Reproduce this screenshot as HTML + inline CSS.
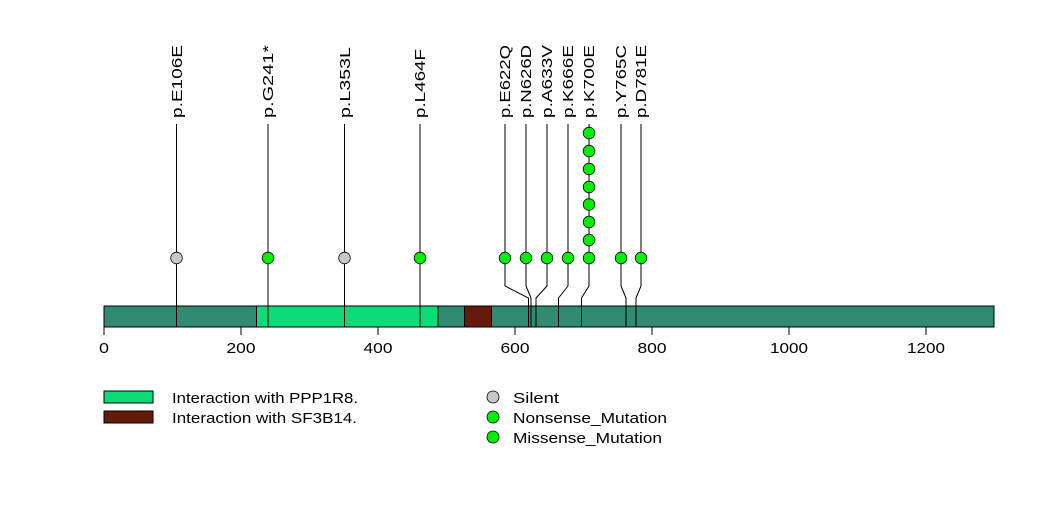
<!DOCTYPE html>
<html><head><meta charset="utf-8"><style>
body{margin:0;background:#fff;}
svg text{font-family:"Liberation Sans",sans-serif;}
</style></head><body>
<svg width="1047" height="524" viewBox="0 0 1047 524" xmlns="http://www.w3.org/2000/svg">
<rect width="1047" height="524" fill="#fff"/>
<g fill="none" stroke="#000" stroke-width="1">
<line x1="176.5" y1="124" x2="176.5" y2="327"/>
<line x1="268" y1="124" x2="268" y2="327"/>
<line x1="344.5" y1="124" x2="344.5" y2="327"/>
<line x1="420" y1="124" x2="420" y2="327"/>
<polyline points="505,124 505,286 528.5,298 528.5,327"/>
<polyline points="526,124 526,286 531,298 531,327"/>
<polyline points="547,124 547,286 536,298 536,327"/>
<polyline points="568,124 568,286 558.5,298 558.5,327"/>
<polyline points="589,124 589,286 581.5,298 581.5,327"/>
<polyline points="621,124 621,286 626,298 626,327"/>
<polyline points="641,124 641,286 636,298 636,327"/>
</g>
<rect x="104" y="306" width="890" height="21" fill="#318a72" stroke="#000"/>
<rect x="256.5" y="306" width="181.5" height="21" fill="#0cdb78" stroke="#000"/>
<rect x="464.5" y="306" width="27" height="21" fill="#661a0c" stroke="#000"/>
<g stroke="#000">
<line x1="176.5" y1="306" x2="176.5" y2="327"/><line x1="268" y1="306" x2="268" y2="327"/>
<line x1="344.5" y1="306" x2="344.5" y2="327"/><line x1="420" y1="306" x2="420" y2="327"/>
<line x1="528.5" y1="306" x2="528.5" y2="327"/><line x1="531" y1="306" x2="531" y2="327"/>
<line x1="536" y1="306" x2="536" y2="327"/><line x1="558.5" y1="306" x2="558.5" y2="327"/>
<line x1="581.5" y1="306" x2="581.5" y2="327"/><line x1="626" y1="306" x2="626" y2="327"/>
<line x1="636" y1="306" x2="636" y2="327"/>
</g>
<g stroke="#000">
<line x1="104" y1="327" x2="789" y2="327"/>
<line x1="104" y1="327" x2="104" y2="335"/><line x1="241" y1="327" x2="241" y2="335"/>
<line x1="378" y1="327" x2="378" y2="335"/><line x1="515" y1="327" x2="515" y2="335"/>
<line x1="652" y1="327" x2="652" y2="335"/><line x1="789" y1="327" x2="789" y2="335"/>
<line x1="926" y1="327" x2="926" y2="335"/>
</g>
<g font-size="15" text-anchor="middle" fill="#000" lengthAdjust="spacingAndGlyphs">
<text x="104" y="353" textLength="10" lengthAdjust="spacingAndGlyphs">0</text>
<text x="241" y="353" textLength="29" lengthAdjust="spacingAndGlyphs">200</text>
<text x="378" y="353" textLength="29" lengthAdjust="spacingAndGlyphs">400</text>
<text x="515" y="353" textLength="29" lengthAdjust="spacingAndGlyphs">600</text>
<text x="652" y="353" textLength="29" lengthAdjust="spacingAndGlyphs">800</text>
<text x="789" y="353" textLength="38" lengthAdjust="spacingAndGlyphs">1000</text>
<text x="926" y="353" textLength="38" lengthAdjust="spacingAndGlyphs">1200</text>
</g>
<g stroke="#000" stroke-width="0.8">
<circle cx="176.5" cy="258" r="5.8" fill="#c8c8c8"/>
<circle cx="268" cy="258" r="5.8" fill="#00ee00"/>
<circle cx="344.5" cy="258" r="5.8" fill="#c8c8c8"/>
<circle cx="420" cy="258" r="5.8" fill="#00ee00"/>
<circle cx="505" cy="258" r="5.8" fill="#00ee00"/>
<circle cx="526" cy="258" r="5.8" fill="#00ee00"/>
<circle cx="547" cy="258" r="5.8" fill="#00ee00"/>
<circle cx="568" cy="258" r="5.8" fill="#00ee00"/>
<circle cx="621" cy="258" r="5.8" fill="#00ee00"/>
<circle cx="641" cy="258" r="5.8" fill="#00ee00"/>
<circle cx="589" cy="258" r="5.8" fill="#00ee00"/>
<circle cx="589" cy="240" r="5.8" fill="#00ee00"/>
<circle cx="589" cy="222" r="5.8" fill="#00ee00"/>
<circle cx="589" cy="204.5" r="5.8" fill="#00ee00"/>
<circle cx="589" cy="187" r="5.8" fill="#00ee00"/>
<circle cx="589" cy="169" r="5.8" fill="#00ee00"/>
<circle cx="589" cy="151" r="5.8" fill="#00ee00"/>
<circle cx="589" cy="133" r="5.8" fill="#00ee00"/>
</g>
<g font-size="15" fill="#000">
<text transform="translate(182,118) rotate(-90)" textLength="73" lengthAdjust="spacingAndGlyphs">p.E106E</text>
<text transform="translate(273,118) rotate(-90)" textLength="73" lengthAdjust="spacingAndGlyphs">p.G241*</text>
<text transform="translate(350,118) rotate(-90)" textLength="71" lengthAdjust="spacingAndGlyphs">p.L353L</text>
<text transform="translate(425,118) rotate(-90)" textLength="69" lengthAdjust="spacingAndGlyphs">p.L464F</text>
<text transform="translate(510,118) rotate(-90)" textLength="73" lengthAdjust="spacingAndGlyphs">p.E622Q</text>
<text transform="translate(531,118) rotate(-90)" textLength="73" lengthAdjust="spacingAndGlyphs">p.N626D</text>
<text transform="translate(552,118) rotate(-90)" textLength="73" lengthAdjust="spacingAndGlyphs">p.A633V</text>
<text transform="translate(573,118) rotate(-90)" textLength="73" lengthAdjust="spacingAndGlyphs">p.K666E</text>
<text transform="translate(594,118) rotate(-90)" textLength="73" lengthAdjust="spacingAndGlyphs">p.K700E</text>
<text transform="translate(626,118) rotate(-90)" textLength="73" lengthAdjust="spacingAndGlyphs">p.Y765C</text>
<text transform="translate(646,118) rotate(-90)" textLength="73" lengthAdjust="spacingAndGlyphs">p.D781E</text>
</g>
<rect x="104" y="391" width="49" height="12" fill="#0cdb78" stroke="#000"/>
<rect x="104" y="411" width="49" height="12" fill="#661a0c" stroke="#000"/>
<g font-size="15" fill="#000">
<text x="172" y="403" textLength="186" lengthAdjust="spacingAndGlyphs">Interaction with PPP1R8.</text>
<text x="172" y="423" textLength="185" lengthAdjust="spacingAndGlyphs">Interaction with SF3B14.</text>
<text x="513" y="403" textLength="46" lengthAdjust="spacingAndGlyphs">Silent</text>
<text x="513" y="423" textLength="154" lengthAdjust="spacingAndGlyphs">Nonsense_Mutation</text>
<text x="513" y="443" textLength="149" lengthAdjust="spacingAndGlyphs">Missense_Mutation</text>
</g>
<g stroke="#000" stroke-width="0.8">
<circle cx="493" cy="397" r="6" fill="#c8c8c8"/>
<circle cx="493" cy="417" r="6" fill="#00ee00"/>
<circle cx="493" cy="437" r="6" fill="#00ee00"/>
</g>
</svg>
</body></html>
